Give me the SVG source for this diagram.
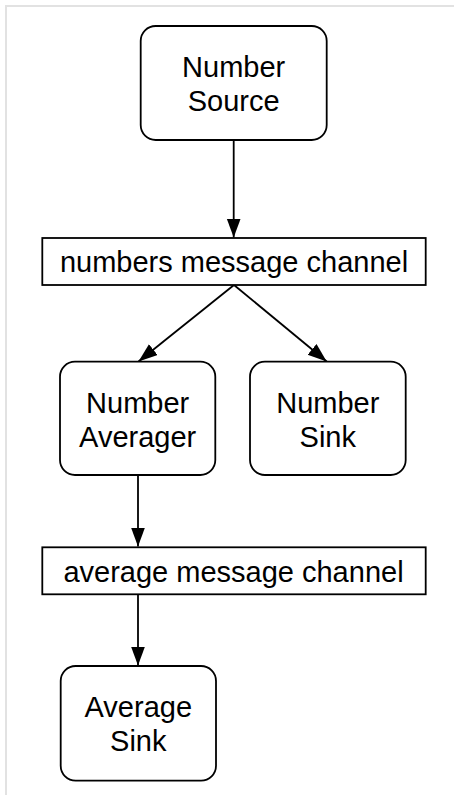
<svg xmlns="http://www.w3.org/2000/svg" width="454" height="795" viewBox="0 0 454 795">
<defs>
<style>
.frame{fill:none;stroke:#e2e2e2;stroke-width:2}
.box{fill:#fff;stroke:#000;stroke-width:1.8}
.lbl{font-family:"Liberation Sans",Arial,Helvetica,sans-serif;font-size:29px;fill:#000;text-anchor:middle}
.edge{fill:none;stroke:#000;stroke-width:1.8}
</style>
<marker id="arr" markerUnits="userSpaceOnUse" markerWidth="21" markerHeight="15" refX="19" refY="7" orient="auto">
<path d="M0,0 L19,7 L0,14 Z" fill="#000"/>
</marker>
</defs>
<rect width="454" height="795" fill="#fff"/>
<path class="frame" d="M6,795 V6 H454"/>
<g id="connectors">
<line class="edge" x1="233.7" y1="140" x2="233.7" y2="237.5" marker-end="url(#arr)"/>
<line class="edge" x1="234" y1="285" x2="138.5" y2="361.5" marker-end="url(#arr)"/>
<line class="edge" x1="234" y1="285" x2="326.7" y2="361.5" marker-end="url(#arr)"/>
<line class="edge" x1="138" y1="475" x2="138" y2="546.5" marker-end="url(#arr)"/>
<line class="edge" x1="138" y1="594.3" x2="138" y2="665.5" marker-end="url(#arr)"/>
</g>
<g id="number-source">
<rect class="box" x="140.7" y="26" width="186" height="114" rx="15"/>
<text class="lbl" x="233.7" y="77">Number</text>
<text class="lbl" x="233.7" y="111">Source</text>
</g>
<g id="numbers-channel">
<rect class="box" x="42.3" y="238" width="383.4" height="47"/>
<text class="lbl" x="234" y="272">numbers message channel</text>
</g>
<g id="number-averager">
<rect class="box" x="60" y="361.7" width="155.3" height="113.3" rx="15"/>
<text class="lbl" x="137.7" y="413.3">Number</text>
<text class="lbl" x="137.7" y="446.7">Averager</text>
</g>
<g id="number-sink">
<rect class="box" x="250" y="361.7" width="155.7" height="113.3" rx="15"/>
<text class="lbl" x="327.8" y="413.3">Number</text>
<text class="lbl" x="327.8" y="446.7">Sink</text>
</g>
<g id="average-channel">
<rect class="box" x="42.3" y="547.3" width="383.4" height="47"/>
<text class="lbl" x="233.5" y="582">average message channel</text>
</g>
<g id="average-sink">
<rect class="box" x="60.7" y="666" width="155.3" height="114.7" rx="15"/>
<text class="lbl" x="138.3" y="716.7">Average</text>
<text class="lbl" x="138.3" y="750.7">Sink</text>
</g>
</svg>
